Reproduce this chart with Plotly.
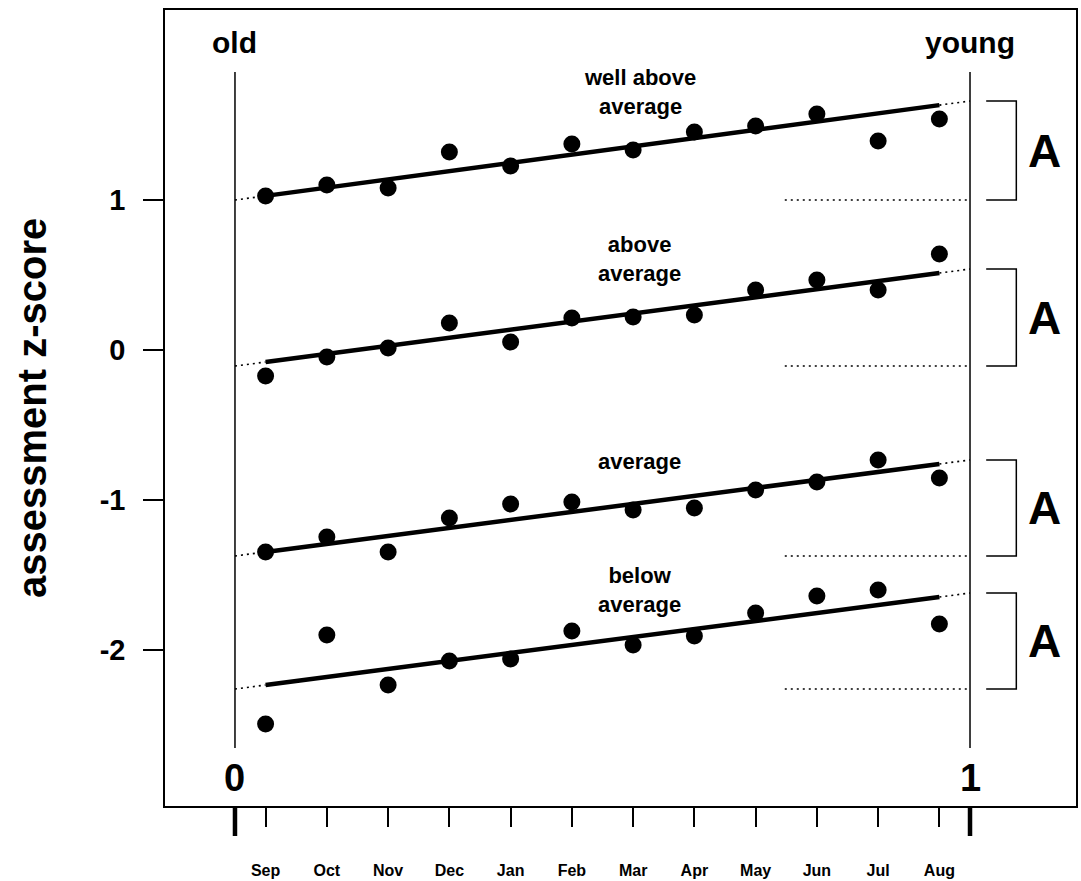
import plotly.graph_objects as go

months = ["Sep", "Oct", "Nov", "Dec", "Jan", "Feb", "Mar", "Apr", "May", "Jun", "Jul", "Aug"]

well_above = [1.027, 1.10, 1.08, 1.32, 1.227, 1.373, 1.333, 1.453, 1.493, 1.573, 1.393, 1.54]
above = [-0.173, -0.047, 0.013, 0.18, 0.053, 0.213, 0.22, 0.233, 0.40, 0.467, 0.40, 0.64]
average = [-1.347, -1.247, -1.347, -1.12, -1.027, -1.013, -1.067, -1.053, -0.933, -0.88, -0.733, -0.853]
below = [-2.493, -1.90, -2.233, -2.073, -2.06, -1.873, -1.967, -1.907, -1.753, -1.64, -1.60, -1.827]

# fitted lines: value at x=0 (intercept) and at x=1
fit_start = [1.0, -0.107, -1.373, -2.26]
fit_end = [1.66, 0.54, -0.733, -1.62]

group_labels = ["well above<br>average", "above<br>average", "average", "below<br>average"]
label_y = [1.72, 0.61, -0.74, -1.60]
bracket_text = ["A", "A", "A", "A"]

y_ticks = [-2, -1, 0, 1]
y_tick_text = ["-2", "-1", "0", "1"]

FONT = "Liberation Sans, Arial, sans-serif"
n = len(months)
xpos = [(i + 0.5) / n for i in range(n)]

fig = go.Figure()

series = [well_above, above, average, below]
for vals, a, b in zip(series, fit_start, fit_end):
    slope = b - a
    x0, x1 = xpos[0], xpos[-1]
    # dotted extensions
    fig.add_trace(go.Scatter(x=[0, x0], y=[a, a + slope * x0], mode="lines",
                             line=dict(color="black", width=1.6, dash="2px,4px"),
                             hoverinfo="skip", showlegend=False))
    fig.add_trace(go.Scatter(x=[x1, 1], y=[a + slope * x1, b], mode="lines",
                             line=dict(color="black", width=1.6, dash="2px,4px"),
                             hoverinfo="skip", showlegend=False))
    # solid fit
    fig.add_trace(go.Scatter(x=[x0, x1], y=[a + slope * x0, a + slope * x1], mode="lines",
                             line=dict(color="black", width=4.5),
                             hoverinfo="skip", showlegend=False))
    # horizontal reference at intercept
    fig.add_trace(go.Scatter(x=[0.748, 1.0], y=[a, a], mode="lines",
                             line=dict(color="black", width=1.6, dash="2px,4px"),
                             hoverinfo="skip", showlegend=False))
    # bracket
    fig.add_trace(go.Scatter(x=[1.022, 1.063, 1.063, 1.022], y=[b, b, a, a], mode="lines",
                             line=dict(color="black", width=1.5),
                             hoverinfo="skip", showlegend=False))
    # points
    fig.add_trace(go.Scatter(x=xpos, y=vals, mode="markers",
                             marker=dict(color="black", size=17),
                             showlegend=False))

shapes = []
for xv in [0, 1]:
    shapes.append(dict(type="line", xref="x", yref="y", x0=xv, x1=xv, y0=-2.653, y1=1.853,
                       line=dict(color="black", width=1.5)))
    shapes.append(dict(type="line", xref="x", yref="paper", x0=xv, x1=xv, y0=0, y1=-0.0377,
                       line=dict(color="black", width=4.5)))

annotations = []
for txt, yv in zip(group_labels, label_y):
    annotations.append(dict(x=0.551, y=yv, xref="x", yref="y", text=txt, showarrow=False,
                            font=dict(family=FONT, size=22, color="black", weight="bold")))
for txt, a, b in zip(bracket_text, fit_start, fit_end):
    annotations.append(dict(x=1.102, y=(a + b) / 2, xref="x", yref="y", text=txt, showarrow=False,
                            font=dict(family=FONT, size=46, color="black", weight="bold")))
for txt, xv in [("old", 0), ("young", 1)]:
    annotations.append(dict(x=xv, y=2.053, xref="x", yref="y", text=txt, showarrow=False,
                            font=dict(family=FONT, size=30, color="black", weight="bold")))
for txt, xv in [("0", 0), ("1", 1)]:
    annotations.append(dict(x=xv, y=-2.853, xref="x", yref="y", text=txt, showarrow=False,
                            font=dict(family=FONT, size=38, color="black", weight="bold")))
annotations.append(dict(x=-0.146, y=0.5, xref="paper", yref="paper", text="assessment z-score",
                        textangle=-90, showarrow=False, xanchor="center", yanchor="middle",
                        font=dict(family=FONT, size=40, color="black", weight="bold")))

fig.update_layout(
    width=1081, height=881,
    margin=dict(l=165, r=5, t=10, b=75, autoexpand=False),
    paper_bgcolor="white", plot_bgcolor="white",
    shapes=shapes, annotations=annotations, showlegend=False,
    xaxis=dict(range=[-0.0952, 1.1442], tickvals=xpos, ticktext=months,
               ticks="outside", ticklen=19, tickwidth=1.5, tickcolor="black",
               tickfont=dict(family=FONT, size=16, color="black", weight="bold"),
               ticklabelstandoff=30,
               showgrid=False, zeroline=False, showline=True, mirror=True,
               linecolor="black", linewidth=1.5, fixedrange=True),
    yaxis=dict(range=[-3.04, 2.2667], tickvals=y_ticks, ticktext=y_tick_text,
               ticks="outside", ticklen=20, tickwidth=1.5, tickcolor="black",
               tickfont=dict(family=FONT, size=29, color="black", weight="bold"),
               ticklabelstandoff=12,
               showgrid=False, zeroline=False, showline=True, mirror=True,
               linecolor="black", linewidth=1.5, fixedrange=True),
)

fig.write_html("out.html", config={"displayModeBar": False},
               post_script="document.body.style.margin='0';document.body.style.overflow='hidden';")
